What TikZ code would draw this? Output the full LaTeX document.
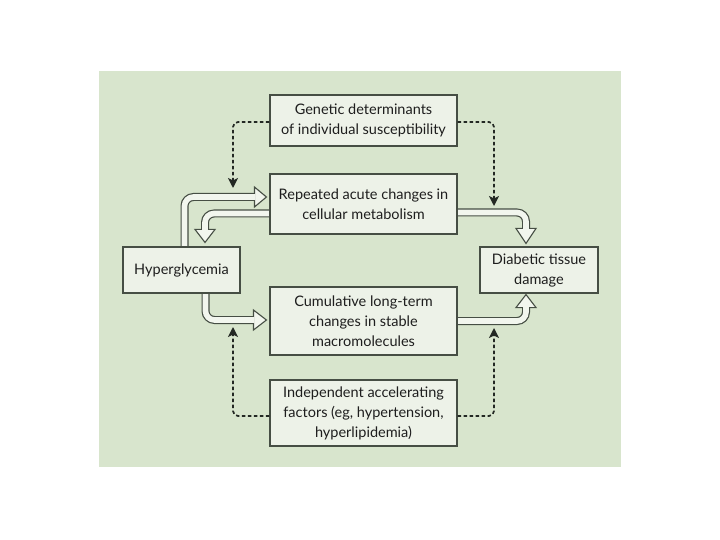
\documentclass[tikz,border=0pt]{standalone}
\usepackage{fontspec}
\setmainfont{Lato}
\usetikzlibrary{arrows.meta,calc}
\definecolor{panel}{RGB}{216,229,205}
\definecolor{boxfill}{RGB}{237,242,232}
\definecolor{bandfill}{RGB}{242,246,238}
\definecolor{bordercol}{RGB}{70,78,68}
\definecolor{txt}{RGB}{30,30,30}
\definecolor{dotcol}{RGB}{35,40,35}
\tikzset{
  box/.style={draw=bordercol, fill=boxfill, line width=1.1pt, inner sep=0pt, align=center, text=txt,
    font=\fontsize{14.5}{20}\selectfont},
  bandout/.style={draw=bordercol, line width=8pt, rounded corners=9pt},
  bandin/.style={draw=bandfill, line width=5.6pt, rounded corners=9pt},
  headst/.style={fill=bandfill, draw=bordercol, line width=1.1pt, line join=miter},
  dotarrow/.style={draw=dotcol, line width=1.7pt, dash pattern=on 3.5pt off 2.5pt, rounded corners=5pt,
    -{Stealth[length=10pt,width=10pt,inset=2.5pt]}}
}
\begin{document}
\begin{tikzpicture}[x=1pt,y=-1pt]
\useasboundingbox (0,0) rectangle (720,540);
\fill[white] (0,0) rectangle (720,540);
\fill[panel] (99,71) rectangle (621,467);

% boxes (positions)
\path
  (363.5,120.5) node[box, minimum width=187pt, minimum height=51pt] (gen) {Genetic determinants\\of individual susceptibility}
  (363.5,204)   node[box, minimum width=187pt, minimum height=60pt] (rep) {Repeated acute changes in\\cellular metabolism}
  (363.5,321)   node[box, minimum width=187pt, minimum height=68pt] (cum) {Cumulative long-term\\changes in stable\\macromolecules}
  (363.5,413)   node[box, minimum width=187pt, minimum height=66pt] (ind) {Independent accelerating\\factors (eg, hypertension,\\hyperlipidemia)}
  (181.5,270)   node[box, minimum width=117pt, minimum height=46pt] (hyp) {Hyperglycemia}
  (539,270)     node[box, minimum width=118pt, minimum height=46pt] (dia) {Diabetic tissue\\damage};

% hollow arrows
% A1: hyperglycemia -> repeated
\coordinate (a1s) at ([xshift=3pt]hyp.north);
\coordinate (a1t) at ($(rep.west |- 0,197)+(-3,0)$);
\coordinate (a1b) at ($(a1t)+(-12,0)$);
\draw[bandout] (a1s) |- (a1b);
\draw[headst] (a1t) -- ($(a1b)+(0,-10)$) -- ($(a1b)+(0,10)$) -- cycle;
\draw[bandin] (a1s) |- ($(a1b)+(1,0)$);
% A2: repeated -> hyperglycemia
\coordinate (a2s) at (rep.west |- 0,213.5);
\coordinate (a2t) at ($(hyp.north -| 205,0)+(0,-4)$);
\coordinate (a2b) at ($(a2t)+(0,-13)$);
\draw[bandout] (a2s) -| (a2b);
\draw[headst] (a2t) -- ($(a2b)+(-10,0)$) -- ($(a2b)+(10,0)$) -- cycle;
\draw[bandin] (a2s) -| ($(a2b)+(0,1)$);
% A3: repeated -> diabetic
\coordinate (a3s) at (rep.east |- 0,212.5);
\coordinate (a3t) at ($(dia.north -| 526,0)+(0,-3)$);
\coordinate (a3b) at ($(a3t)+(0,-15)$);
\draw[bandout] (a3s) -| (a3b);
\draw[headst] (a3t) -- ($(a3b)+(-10,0)$) -- ($(a3b)+(10,0)$) -- cycle;
\draw[bandin] (a3s) -| ($(a3b)+(0,1)$);
% A4: hyperglycemia -> cumulative
\coordinate (a4s) at (hyp.south -| 205.5,0);
\coordinate (a4t) at ($(cum.west |- 0,320)+(-3,0)$);
\coordinate (a4b) at ($(a4t)+(-13,0)$);
\draw[bandout] (a4s) |- (a4b);
\draw[headst] (a4t) -- ($(a4b)+(0,-10)$) -- ($(a4b)+(0,10)$) -- cycle;
\draw[bandin] (a4s) |- ($(a4b)+(1,0)$);
% A5: cumulative -> diabetic
\coordinate (a5s) at (cum.east |- 0,321);
\coordinate (a5t) at ($(dia.south -| 526,0)+(0,1)$);
\coordinate (a5b) at ($(a5t)+(0,13)$);
\draw[bandout] (a5s) -| (a5b);
\draw[headst] (a5t) -- ($(a5b)+(-10,0)$) -- ($(a5b)+(10,0)$) -- cycle;
\draw[bandin] (a5s) -| ($(a5b)+(0,-1)$);

% redraw boxes on top
\path
  (363.5,120.5) node[box, minimum width=187pt, minimum height=51pt] {Genetic determinants\\of individual susceptibility}
  (363.5,204)   node[box, minimum width=187pt, minimum height=60pt] {Repeated acute changes in\\cellular metabolism}
  (363.5,321)   node[box, minimum width=187pt, minimum height=68pt] {Cumulative long-term\\changes in stable\\macromolecules}
  (363.5,413)   node[box, minimum width=187pt, minimum height=66pt] {Independent accelerating\\factors (eg, hypertension,\\hyperlipidemia)}
  (181.5,270)   node[box, minimum width=117pt, minimum height=46pt] {Hyperglycemia}
  (539,270)     node[box, minimum width=118pt, minimum height=46pt] {Diabetic tissue\\damage};

% dotted arrows
\coordinate (d1) at (233,188);
\coordinate (d2) at (494,206);
\coordinate (d3) at (233,327);
\coordinate (d4) at (494,328);
\draw[dotarrow] ([yshift=-1.5pt]gen.west) -| (d1);
\draw[dotarrow] ([yshift=-1.5pt]gen.east) -| (d2);
\draw[dotarrow] ([yshift=-3pt]ind.west) -| (d3);
\draw[dotarrow] ([yshift=-3pt]ind.east) -| (d4);
\end{tikzpicture}
\end{document}
